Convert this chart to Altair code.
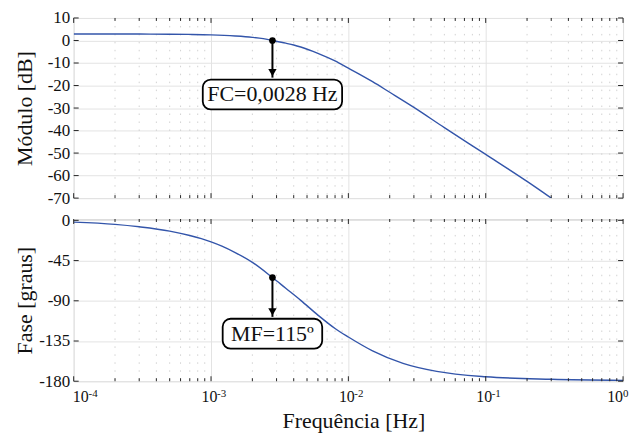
import altair as alt
import pandas as pd

# ---------------- data ----------------
mag_freq = [1e-4, 2e-4, 3e-4, 5e-4, 7e-4, 1e-3, 1.5e-3, 2e-3, 2.4e-3, 2.8e-3,
            3.5e-3, 4e-3, 4.5e-3, 6e-3, 8e-3, 1e-2, 1.2e-2, 1.5e-2, 2e-2, 3e-2,
            5e-2, 0.1, 0.2, 0.3]
mag_db = [2.9, 2.9, 2.85, 2.8, 2.7, 2.5, 2.0, 1.4, 0.8, 0.0,
          -1.2, -2.0, -2.9, -5.7, -9.1, -12.3, -14.9, -18.3, -23.0, -29.7,
          -38.7, -50.6, -62.6, -70.0]

phase_freq = [1e-4, 2e-4, 3e-4, 5e-4, 7e-4, 8.5e-4, 1e-3, 1.2e-3, 1.5e-3, 2e-3,
              2.8e-3, 3.5e-3, 4.5e-3, 6e-3, 8e-3, 1e-2, 1.5e-2, 2.5e-2, 4.4e-2,
              0.1, 0.3, 1.0]
phase_deg = [-2.0, -4.5, -7.2, -12.0, -17.0, -20.5, -24.0, -28.8, -36.0, -47.0,
             -64.0, -76.0, -89.5, -106.0, -121.0, -130.5, -146.0, -160.0, -169.0,
             -175.0, -177.8, -179.0]

fc = 0.0028
fc_db = 0.0
fc_phase = -64.0
fc_text = "FC=0,0028 Hz"
mf_text = "MF=115º"

decades = [1e-4, 1e-3, 1e-2, 1e-1, 1e0]
decade_exp = ["-4", "-3", "-2", "-1", "0"]
minor_ticks = [2e-4, 3e-4, 4e-4, 5e-4, 6e-4, 7e-4, 8e-4, 9e-4,
               2e-3, 3e-3, 4e-3, 5e-3, 6e-3, 7e-3, 8e-3, 9e-3,
               2e-2, 3e-2, 4e-2, 5e-2, 6e-2, 7e-2, 8e-2, 9e-2,
               2e-1, 3e-1, 4e-1, 5e-1, 6e-1, 7e-1, 8e-1, 9e-1]
mag_ticks = [-70, -60, -50, -40, -30, -20, -10, 0, 10]
phase_ticks = [-180, -135, -90, -45, 0]

# annotation anchor values (data units)
fc_tip_db = -16.5
fc_label_db = -24.0
mf_tip_phase = -108.0
mf_label_phase = -126.8

# ---------------- styling ----------------
W, H1, H2 = 552, 181, 163
FONT = "Liberation Serif, DejaVu Serif, Times New Roman, serif"
BLUE = "#3355aa"
DARK = "#262626"
GRID = "#e3e3e3"
MINOR = "#d2d2d2"
TXT = "#111111"

xs = alt.Scale(type="log", domain=[1e-4, 1], nice=False)
lab_expr = "datum.value < 0 ? '-' + format(-datum.value, 'd') : format(datum.value, 'd')"

minor_df = pd.DataFrame({"f": minor_ticks})
major_df = pd.DataFrame({"f": decades, "sup": decade_exp})


def make_panel(line_df, yscale, yticks, ytitle, H, xtitle, mark_val, tip_val,
               label_val, label_text, box_w):
    xaxis_kw = dict(values=decades, grid=True, gridColor=GRID, gridWidth=1,
                    labels=False, ticks=False, domain=False)
    if xtitle:
        xaxis = alt.Axis(title=xtitle, titleFont=FONT, titleFontSize=22,
                         titleFontWeight="normal", titleColor=TXT,
                         titleY=46, titleX=W / 2 + 5, titleBaseline="alphabetic",
                         **xaxis_kw)
    else:
        xaxis = alt.Axis(title=None, **xaxis_kw)
    yaxis = alt.Axis(values=yticks, grid=True, gridColor=GRID, gridWidth=1,
                     ticks=False, domain=False, labelExpr=lab_expr,
                     labelFont=FONT, labelFontSize=17, labelColor=TXT,
                     labelPadding=4, minExtent=36, maxExtent=36,
                     title=ytitle, titleFont=FONT, titleFontSize=22,
                     titleFontWeight="normal", titleColor=TXT, titlePadding=1)

    X = alt.X("f:Q", scale=xs, axis=xaxis)

    minor_grid = alt.Chart(minor_df).mark_rule(
        color=MINOR, strokeDash=[1.5, 6.5], strokeWidth=1).encode(x=X)

    line = alt.Chart(line_df).mark_line(
        color=BLUE, strokeWidth=1.4, clip=True, interpolate="monotone"
    ).encode(x=X, y=alt.Y("v:Q", scale=yscale, axis=yaxis))

    ytick_df = pd.DataFrame({"v": yticks})
    Y = alt.Y("v:Q", scale=yscale, axis=yaxis)
    tl = alt.Chart(ytick_df).mark_rule(color=DARK).encode(
        y=Y, x=alt.value(0), x2=alt.value(5))
    tr = alt.Chart(ytick_df).mark_rule(color=DARK).encode(
        y=Y, x=alt.value(W - 5), x2=alt.value(W))
    tt = alt.Chart(major_df).mark_rule(color=DARK).encode(
        x=X, y=alt.value(0), y2=alt.value(5))
    tb = alt.Chart(major_df).mark_rule(color=DARK).encode(
        x=X, y=alt.value(H - 5), y2=alt.value(H))
    mt = alt.Chart(minor_df).mark_rule(color=DARK).encode(
        x=X, y=alt.value(0), y2=alt.value(3))
    mb = alt.Chart(minor_df).mark_rule(color=DARK).encode(
        x=X, y=alt.value(H - 3), y2=alt.value(H))

    ann_df = pd.DataFrame({"f": [fc], "v": [mark_val], "tip": [tip_val],
                           "lab": [label_val], "text": [label_text]})
    shaft = alt.Chart(ann_df).mark_rule(color="black", strokeWidth=2).encode(
        x=X, y=Y, y2=alt.Y2("tip:Q"))
    head = alt.Chart(ann_df).mark_point(
        shape="triangle-down", filled=True, size=70, color="black",
        opacity=1, yOffset=-5).encode(x=X, y=alt.Y("tip:Q", scale=yscale, axis=yaxis))
    dot = alt.Chart(ann_df).mark_point(
        filled=True, size=45, color="black", opacity=1).encode(x=X, y=Y)
    box = alt.Chart(ann_df).mark_rect(
        width=box_w, height=30, cornerRadius=8, fill="white",
        stroke="black", strokeWidth=1.8).encode(
        x=X, y=alt.Y("lab:Q", scale=yscale, axis=yaxis))
    txt = alt.Chart(ann_df).mark_text(
        font=FONT, fontSize=22, color=TXT, align="center", baseline="middle"
    ).encode(x=X, y=alt.Y("lab:Q", scale=yscale, axis=yaxis), text="text:N")

    layers = [minor_grid, line, tl, tr, tt, tb, mt, mb, shaft, head, dot, box, txt]

    if xtitle:
        mid = major_df.iloc[1:4]
        first = major_df.iloc[0:1]
        last = major_df.iloc[4:5]
        for sub, d10, dsup in [(mid, -9.5, 6), (first, -1, 15), (last, -16, 0)]:
            layers.append(alt.Chart(sub).mark_text(
                text="10", font=FONT, fontSize=16, color=TXT, align="left",
                baseline="alphabetic", dx=d10).encode(x=X, y=alt.value(H + 21)))
            layers.append(alt.Chart(sub).mark_text(
                font=FONT, fontSize=11, color=TXT, align="left",
                baseline="alphabetic", dx=dsup).encode(
                x=X, y=alt.value(H + 16), text="sup:N"))

    return alt.layer(*layers).properties(width=W, height=H)


mag_df = pd.DataFrame({"f": mag_freq, "v": mag_db})
ph_df = pd.DataFrame({"f": phase_freq, "v": phase_deg})

top = make_panel(mag_df, alt.Scale(domain=[-70, 10], nice=False, zero=False),
                 mag_ticks, "Módulo [dB]", H1, None, fc_db, fc_tip_db,
                 fc_label_db, fc_text, 140)
bottom = make_panel(ph_df, alt.Scale(domain=[-180, 1.5], nice=False, zero=False),
                    phase_ticks, "Fase [graus]", H2, "Frequência [Hz]", fc_phase,
                    mf_tip_phase, mf_label_phase, mf_text, 100)

chart = alt.vconcat(top, bottom, spacing=21, bounds="flush").properties(
    padding={"left": 5, "top": -1, "right": 5, "bottom": 0}
).configure_view(stroke=DARK, strokeWidth=1).configure(background="white")

chart.save("out.html", embed_options={"renderer": "svg", "actions": False})
